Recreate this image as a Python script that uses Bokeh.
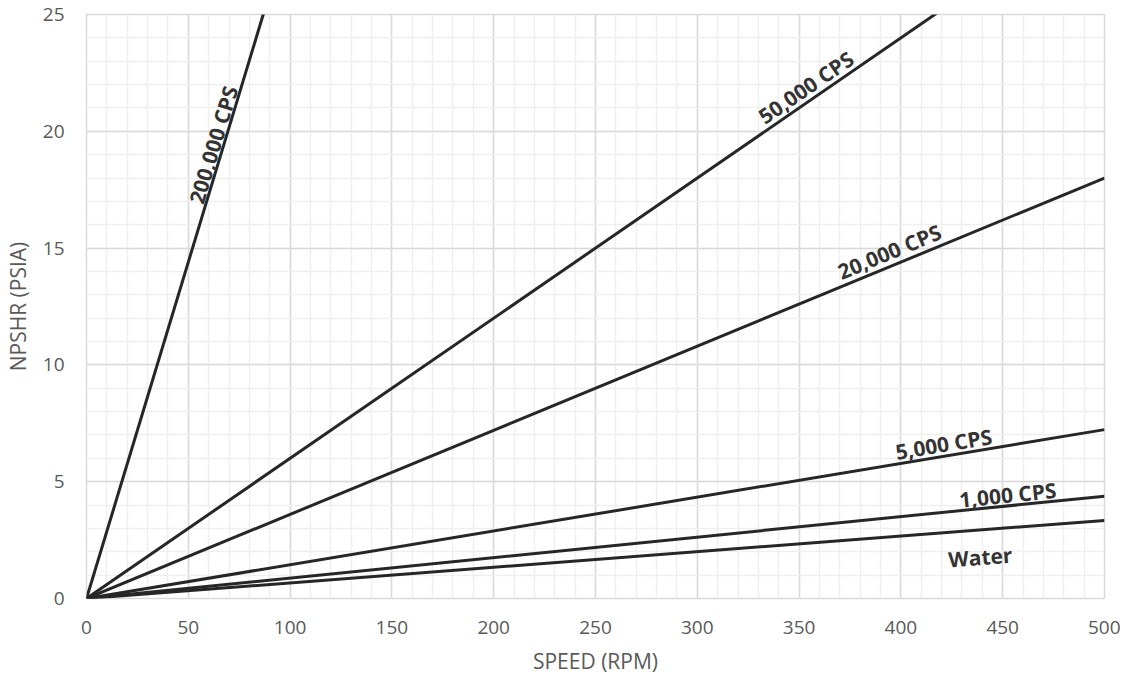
import math
import numpy as np
from bokeh.plotting import figure
from bokeh.models import SingleIntervalTicker, Range1d
from bokeh.core.properties import value
from bokeh.embed import file_html
from bokeh.resources import INLINE

# ---- data ----
speed_rpm = [0, 500]
water = [0, 3.34]
cps_1000 = [0, 4.38]
cps_5000 = [0, 7.23]
cps_20000 = [0, 18.0]
cps_50000 = [0, 30.0]
cps_200000 = [0, 144.0]

series_names = ["Water", "1,000 CPS", "5,000 CPS", "20,000 CPS", "50,000 CPS", "200,000 CPS"]
series_values = [water, cps_1000, cps_5000, cps_20000, cps_50000, cps_200000]

# ---- label placement (speed along the line, perpendicular gap in px) ----
label_speed = [438, 453, 422, 397, 357, 67]
label_gap_px = [-27, 11, 12, 14, 13, 10]

X_MAX, Y_MAX = 500, 25
FRAME_W, FRAME_H = 1018, 584
px_x = FRAME_W / X_MAX
px_y = FRAME_H / Y_MAX

p = figure(
    output_backend="svg", toolbar_location=None,
    frame_width=FRAME_W, frame_height=FRAME_H,
    min_border_left=84, min_border_top=14, min_border_right=16, min_border_bottom=0,
    x_range=Range1d(0, X_MAX), y_range=Range1d(0, Y_MAX),
    background_fill_color="white", border_fill_color="white",
)
p.outline_line_color = "#d9d9d9"
p.outline_line_width = 1.5

p.xaxis.ticker = SingleIntervalTicker(interval=50, num_minor_ticks=5)
p.yaxis.ticker = SingleIntervalTicker(interval=5, num_minor_ticks=5)

for g in (p.xgrid, p.ygrid):
    g.grid_line_color = "#d9d9d9"
    g.grid_line_width = 1.5
    g.minor_grid_line_color = "#efefef"
    g.minor_grid_line_width = 1.5

for ax in (p.xaxis, p.yaxis):
    ax.axis_line_color = None
    ax.major_tick_line_color = None
    ax.minor_tick_line_color = None
    ax.major_tick_out = 0
    ax.minor_tick_out = 0
    ax.major_label_text_font = "Open Sans"
    ax.major_label_text_font_size = "19px"
    ax.major_label_text_color = "#595959"
    ax.axis_label_text_font = "Open Sans"
    ax.axis_label_text_font_size = "21px"
    ax.axis_label_text_font_style = "normal"
    ax.axis_label_text_color = "#595959"

p.xaxis.axis_label = "SPEED (RPM)"
p.yaxis.axis_label = "NPSHR (PSIA)"
p.xaxis.major_label_standoff = 22
p.xaxis.axis_label_standoff = 10
p.yaxis.major_label_standoff = 22
p.yaxis.axis_label_standoff = 8

for name, vals in zip(series_names, series_values):
    p.line(speed_rpm, vals, line_color="#262626", line_width=3)

for name, vals, sx, gap in zip(series_names, series_values, label_speed, label_gap_px):
    slope = (vals[1] - vals[0]) / (speed_rpm[1] - speed_rpm[0])
    ang = math.atan(slope * px_y / px_x)
    sy = float(np.interp(sx, speed_rpm, vals))
    ax_ = sx - math.sin(ang) * gap / px_x
    ay_ = sy + math.cos(ang) * gap / px_y
    p.text(x=[ax_], y=[ay_], text=[name], angle=ang,
           text_align="center", text_baseline="alphabetic",
           text_font=value("Open Sans"), text_font_style="bold",
           text_font_size="21px", text_color="#333333")

open("out.html", "w").write(file_html(p, INLINE))
